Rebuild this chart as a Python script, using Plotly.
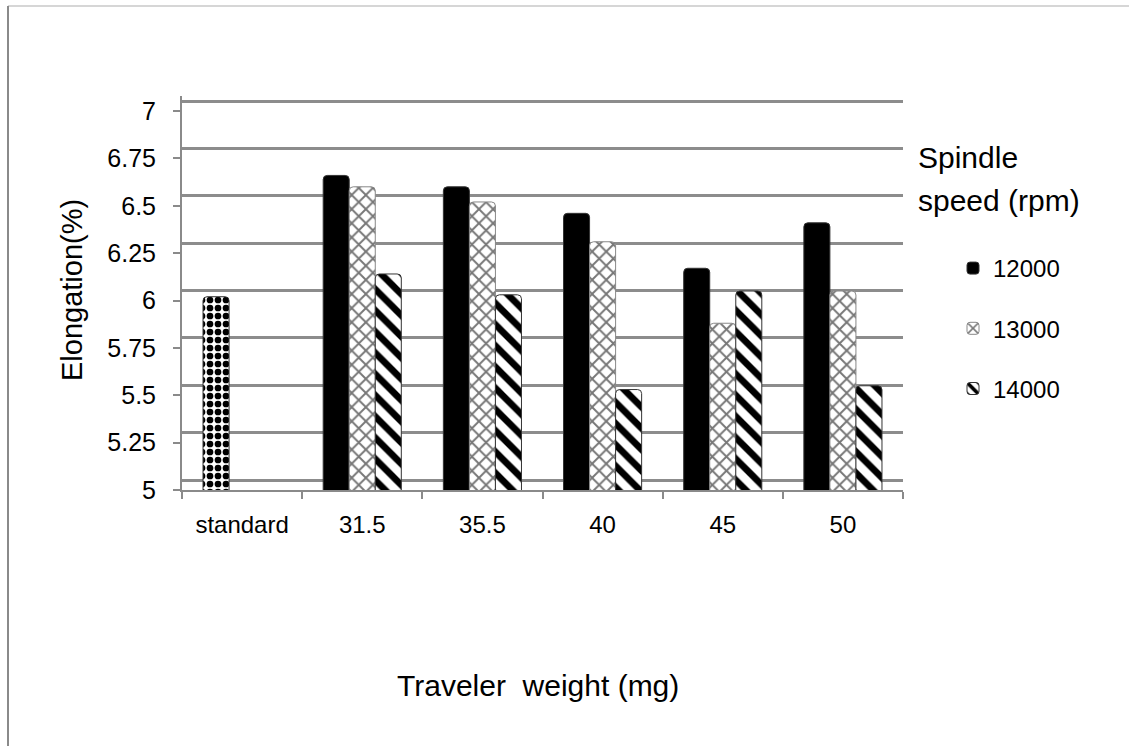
import plotly.graph_objects as go

# ---- data ----
categories = ["standard", "31.5", "35.5", "40", "45", "50"]
standard_cat = ["standard"]
standard_val = [6.02]
series_names = ["12000", "13000", "14000"]
v12000 = [None, 6.66, 6.60, 6.46, 6.17, 6.41]
v13000 = [None, 6.60, 6.52, 6.31, 5.88, 6.05]
v14000 = [None, 6.14, 6.03, 5.53, 6.05, 5.55]
ytick_vals = [5, 5.25, 5.5, 5.75, 6, 6.25, 6.5, 6.75, 7]
ytick_text = ["5", "5.25", "5.5", "5.75", "6", "6.25", "6.5", "6.75", "7"]

FONT = "Liberation Sans, Arial, sans-serif"

fig = go.Figure()

# empty helper trace so the offset back-wall grid axis (y2) is rendered
fig.add_trace(go.Scatter(x=[], y=[], yaxis="y2", showlegend=False, hoverinfo="skip"))

# standard bar (shares slot with the 12000 series)
fig.add_trace(go.Bar(
    x=standard_cat, y=standard_val, offsetgroup="g1", showlegend=False,
    marker=dict(color="white", cornerradius=4,
                line=dict(color="#333333", width=1),
                pattern=dict(shape=".", fgcolor="black", bgcolor="white",
                             fgopacity=1, size=8, solidity=0.55)),
    hoverinfo="y",
))
fig.add_trace(go.Bar(
    x=categories, y=v12000, name=series_names[0], offsetgroup="g1",
    legendgroup="a",
    marker=dict(color="black", cornerradius=4, line=dict(color="#333333", width=1)),
))
fig.add_trace(go.Bar(
    x=categories, y=v13000, name=series_names[1], offsetgroup="g2",
    legendgroup="b",
    marker=dict(color="white", cornerradius=4,
                line=dict(color="#888888", width=1),
                pattern=dict(shape="x", fgcolor="#777777", bgcolor="white",
                             fgopacity=1, size=10, solidity=0.35)),
))
fig.add_trace(go.Bar(
    x=categories, y=v14000, name=series_names[2], offsetgroup="g3",
    legendgroup="c",
    marker=dict(color="white", cornerradius=4,
                line=dict(color="#333333", width=1),
                pattern=dict(shape="\\", fgcolor="black", bgcolor="white",
                             fgopacity=1, size=15, solidity=0.45)),
))

# plot area: x 182..903 px, y 96..490 px  (value 5 at 490 px, 189.5 px per unit)
L, R, T, B = 182, 903, 96, 490
W, H = 1129, 746
pw, ph = R - L, B - T

def px(x):
    return (x - L) / pw

def py(y):
    return (B - y) / ph

PPU = 189.5
top_val = 5 + (B - T) / PPU
off = 10 / PPU

fig.update_layout(
    width=W, height=H,
    margin=dict(l=L, r=W - R, t=T, b=H - B, pad=0),
    paper_bgcolor="white", plot_bgcolor="white",
    barmode="group", bargap=0.35, bargroupgap=0,
    font=dict(family=FONT, size=24, color="black"),
    xaxis=dict(
        type="category", categoryorder="array", categoryarray=categories,
        showgrid=False, showline=True, linecolor="#8a8a8a", linewidth=2,
        ticks="outside", ticklen=7, tickcolor="#8a8a8a", tickwidth=2,
        tickson="boundaries", ticklabelstandoff=12,
        tickfont=dict(size=24), zeroline=False,
    ),
    yaxis=dict(
        range=[5, top_val], tickvals=ytick_vals, ticktext=ytick_text,
        showgrid=False, showline=True, linecolor="#8a8a8a", linewidth=2,
        ticks="outside", ticklen=7, tickcolor="#8a8a8a", tickwidth=2,
        ticklabelstandoff=12, tickfont=dict(size=25), zeroline=False,
    ),
    yaxis2=dict(
        overlaying="y", anchor="x", side="left",
        range=[5 - off, top_val - off], tick0=5, dtick=0.25,
        showgrid=True, gridcolor="#8c8c8c", gridwidth=2.5,
        showticklabels=False, ticks="", showline=False, zeroline=False,
        layer="below traces",
    ),
    legend=dict(
        x=px(953), xanchor="left", y=py(246), yanchor="top",
        font=dict(size=24), tracegroupgap=26, traceorder="grouped",
        bgcolor="rgba(0,0,0,0)", itemwidth=30,
    ),
    showlegend=True,
)

fig.add_annotation(text="Elongation(%)", x=px(72), y=py(290), xref="paper", yref="paper",
                   textangle=-90, showarrow=False, font=dict(size=29),
                   xanchor="center", yanchor="middle")
fig.add_annotation(text="Traveler\u00a0 weight (mg)", x=px(538), y=py(685),
                   xref="paper", yref="paper", showarrow=False, font=dict(size=30),
                   xanchor="center", yanchor="middle")
fig.add_annotation(text="Spindle", x=px(916), y=py(157), xref="paper", yref="paper",
                   showarrow=False, font=dict(size=30), xanchor="left", yanchor="middle")
fig.add_annotation(text="speed (rpm)", x=px(916), y=py(200), xref="paper", yref="paper",
                   showarrow=False, font=dict(size=30), xanchor="left", yanchor="middle")

# outer chart-area border (left and top edges visible)
fig.add_shape(type="line", xref="paper", yref="paper", x0=px(8), x1=px(1140),
              y0=py(6), y1=py(6), line=dict(color="#c8c8c8", width=1.5))
fig.add_shape(type="line", xref="paper", yref="paper", x0=px(8), x1=px(8),
              y0=py(6), y1=py(760), line=dict(color="#8a8a8a", width=2))

fig.write_html("out.html")
